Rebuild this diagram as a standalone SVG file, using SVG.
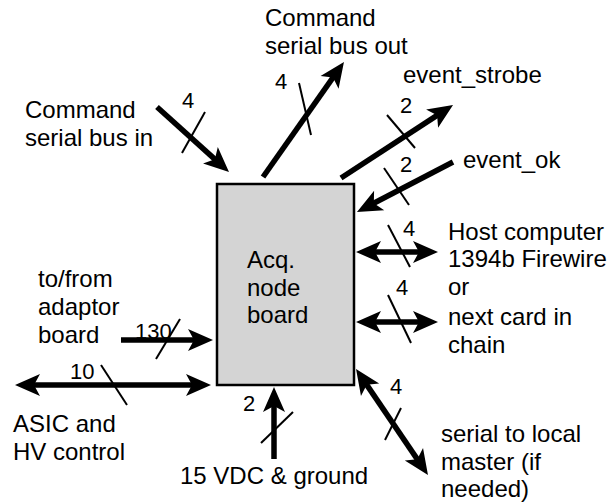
<svg xmlns="http://www.w3.org/2000/svg" width="616" height="504" viewBox="0 0 616 504">
<style>
text{font-family:"Liberation Sans",Arial,Helvetica,sans-serif;font-size:24px;fill:#000}
.n{font-size:22px}
.w{stroke:#000;stroke-width:5.5;fill:none}
.t{stroke:#000;stroke-width:2;fill:none}
</style>
<defs>
<marker id="ah" markerUnits="userSpaceOnUse" viewBox="-27 -13 29 26" refX="-14" refY="0" markerWidth="29" markerHeight="26" orient="auto-start-reverse">
<path d="M0,0 L-25,-11 L-19,0 L-25,11 Z" fill="#000"/>
</marker>
</defs>
<rect width="616" height="504" fill="#fff"/>
<g id="acq-node-board">
<rect x="217" y="184" width="137" height="201" fill="#d4d4d4" stroke="#000" stroke-width="2.5"/>
<text x="247" y="268">Acq.</text>
<text x="247" y="296">node</text>
<text x="247" y="323">board</text>
</g>
<g id="cmd-in-label"><text x="25" y="118">Command</text><text x="25" y="146">serial bus in</text></g>
<g id="cmd-out-label"><text x="265" y="26">Command</text><text x="265" y="54">serial bus out</text></g>
<g id="event-strobe-label"><text x="403" y="83">event_strobe</text></g>
<g id="event-ok-label"><text x="463" y="168">event_ok</text></g>
<g id="host-label"><text x="448" y="240">Host computer</text><text x="448" y="267">1394b Firewire</text><text x="448" y="295">or</text><text x="448" y="325">next card in</text><text x="448" y="353">chain</text></g>
<g id="serial-master-label"><text x="441" y="442">serial to local</text><text x="441" y="470">master (if</text><text x="441" y="497">needed)</text></g>
<g id="power-label"><text x="180" y="484">15 VDC &amp; ground</text></g>
<g id="asic-label"><text x="13" y="432">ASIC and</text><text x="13" y="460">HV control</text></g>
<g id="adaptor-label"><text x="38" y="287">to/from</text><text x="38" y="315">adaptor</text><text x="38" y="343">board</text></g>
<g id="connectors">
<line class="w" x1="157" y1="107" x2="218.6" y2="162.6" marker-end="url(#ah)"/>
<line class="t" x1="205" y1="112" x2="182" y2="153"/>
<text class="n" x="182" y="108">4</text>
<line class="w" x1="263" y1="177" x2="335.9" y2="73.4" marker-end="url(#ah)"/>
<line class="t" x1="299" y1="83" x2="311" y2="135"/>
<text class="n" x="275" y="89">4</text>
<line class="w" x1="341" y1="178" x2="441.3" y2="112.6" marker-end="url(#ah)"/>
<line class="t" x1="387" y1="115" x2="415" y2="148"/>
<text class="n" x="400" y="113">2</text>
<line class="w" x1="453" y1="162" x2="369.4" y2="205.5" marker-end="url(#ah)"/>
<line class="t" x1="384" y1="168" x2="409" y2="205"/>
<text class="n" x="400" y="172">2</text>
<line class="w" x1="370" y1="252" x2="424" y2="252" marker-start="url(#ah)" marker-end="url(#ah)"/>
<line class="t" x1="388" y1="225" x2="410" y2="267"/>
<text class="n" x="403" y="236">4</text>
<line class="w" x1="370" y1="322" x2="424" y2="322" marker-start="url(#ah)" marker-end="url(#ah)"/>
<line class="t" x1="388" y1="295" x2="411" y2="343"/>
<text class="n" x="396" y="295">4</text>
<line class="w" x1="363.9" y1="380.6" x2="420.1" y2="463.4" marker-start="url(#ah)" marker-end="url(#ah)"/>
<line class="t" x1="401" y1="408" x2="385" y2="440"/>
<text class="n" x="390" y="394">4</text>
<line class="w" x1="274" y1="459" x2="274" y2="401" marker-end="url(#ah)"/>
<line class="t" x1="293" y1="412" x2="261" y2="443"/>
<text class="n" x="243" y="411">2</text>
<line class="w" x1="121" y1="340" x2="199" y2="340" marker-end="url(#ah)"/>
<line class="t" x1="180" y1="319" x2="156" y2="359"/>
<text class="n" x="135" y="339">130</text>
<line class="w" x1="29" y1="385" x2="197" y2="385" marker-start="url(#ah)" marker-end="url(#ah)"/>
<line class="t" x1="101" y1="365" x2="127" y2="405"/>
<text class="n" x="70" y="379">10</text>
</g>
</svg>
